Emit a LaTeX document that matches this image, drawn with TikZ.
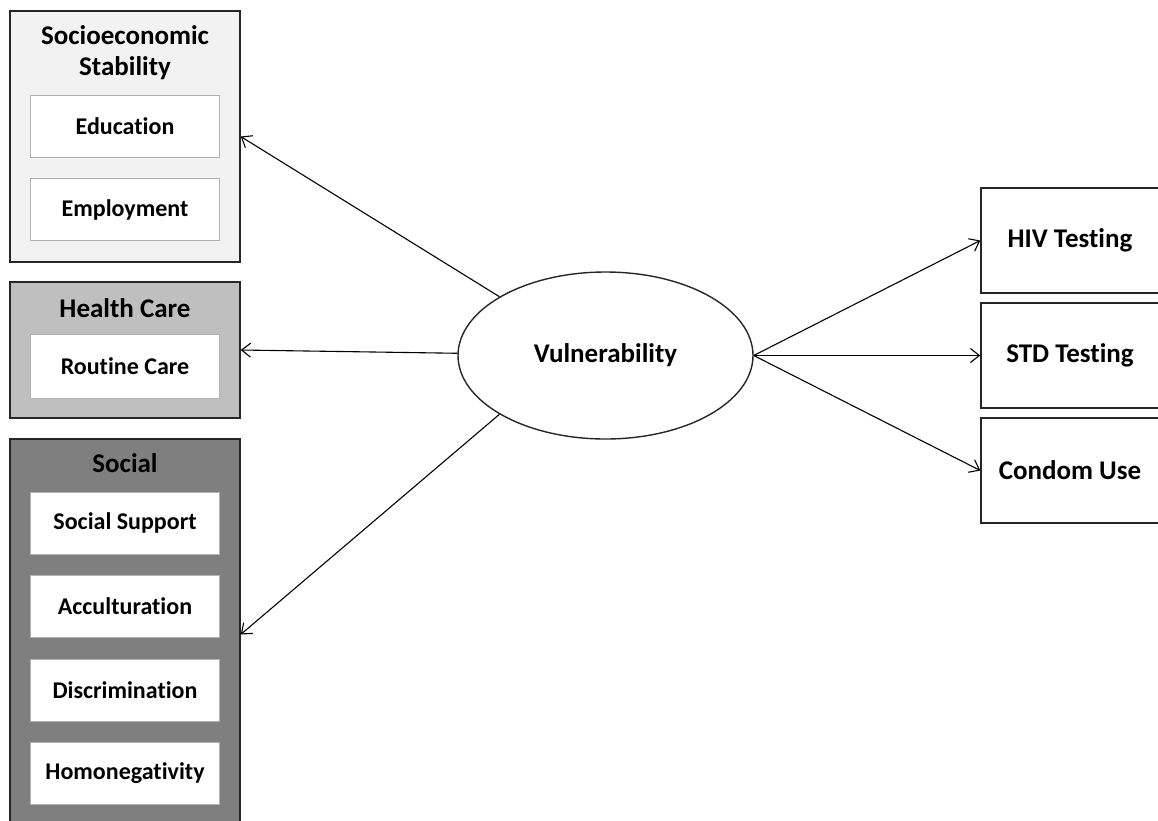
\documentclass[tikz,border=0pt]{standalone}
\usepackage{fontspec}
\setmainfont{Carlito}[Ligatures=NoCommon]
\usetikzlibrary{arrows.meta,shapes.geometric}
\definecolor{sesgray}{HTML}{F2F2F2}
\definecolor{hcgray}{HTML}{BFBFBF}
\definecolor{socgray}{HTML}{7F7F7F}
\tikzset{
  group/.style={draw=black!85,line width=1.4pt,minimum width=230pt},
  title/.style={font=\fontsize{27}{31}\selectfont\bfseries},
  item/.style={draw=black!30,line width=0.9pt,fill=white,minimum width=189pt,minimum height=62pt},
  outcome/.style={draw=black!85,line width=1.4pt,minimum width=178pt,minimum height=105pt,title},
  link/.style={line width=1.1pt,-{Straight Barb[length=9pt,width=14pt]}}
}
\begin{document}
\begin{tikzpicture}[x=1pt,y=-1pt,font=\fontsize{24}{29}\selectfont\bfseries]
                \useasboundingbox (0,0) rectangle (1158,820);

                \node[group,fill=sesgray,minimum height=251pt] (ses) at (125,136.5) {};
                \node[title,align=center] (sestitle) at (125,52.5) {Socioeconomic\\Stability};
                \node[item] (edu) at (125,126) {Education};
                \node[item] (emp) at (125,209.5) {Employment};

                \node[group,fill=hcgray,minimum height=136pt] (hc) at (125,350) {};
                \node[title] (hctitle) at (125,308) {Health Care};
                \node[item,minimum height=64pt] (rout) at (125,366) {Routine Care};

                \node[group,fill=socgray,minimum height=391pt] (soc) at (125,634.5) {};
                \node[title] (soctitle) at (125,463) {Social};
                \node[item] (supp) at (125,523) {Social Support};
                \node[item] (accu) at (125,606.5) {Acculturation};
                \node[item] (disc) at (125,690) {Discrimination};
                \node[item] (homo) at (125,773.5) {Homonegativity};

                \node[draw=black!85,line width=1.4pt,ellipse,minimum width=295pt,minimum height=167pt,inner sep=0pt,title] (vul) at (605.5,355.5) {Vulnerability};

                \node[outcome] (hiv) at (1070,240.5) {HIV Testing};
                \node[outcome] (std) at (1070,355.5) {STD Testing};
                \node[outcome] (cond) at (1070,470.5) {Condom Use\hspace{4pt}};

                \draw[link] (vul.151) -- (ses.east);
                \draw[link] (vul) -- (hc.east);
                \draw[link] (vul.209) -- (soc.east);
                \draw[link] (vul.east) -- (hiv.west);
                \draw[link] (vul.east) -- (std.west);
                \draw[link] (vul.east) -- (cond.west);
            \end{tikzpicture}
\end{document}
